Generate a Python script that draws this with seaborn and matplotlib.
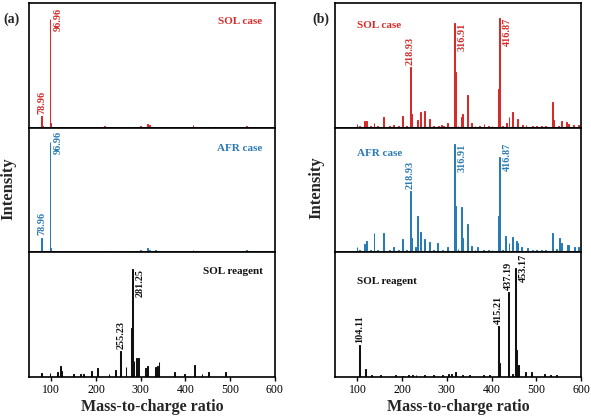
import numpy as np
import pandas as pd
import matplotlib
matplotlib.use("Agg")
import matplotlib.pyplot as plt
import seaborn as sns

# ---- data (m/z, relative intensity) ----
a_sol_mz = [78.96, 80.9, 96.96, 98.9, 219, 231, 241, 298, 315.6, 319, 332, 346, 417, 450, 537]
a_sol_int = [10.5, 1.5, 100, 4, 1.5, 1, 1, 1.5, 3.5, 2, 1, 1, 2.5, 1, 1.5]

a_afr_mz = [78.96, 96.96, 98.9, 219, 298, 315.6, 319, 332, 417, 537, 555]
a_afr_int = [13.5, 100, 4, 1.2, 2, 3.5, 2, 2.5, 2, 2, 1.5]

a_reag_mz = [78.6, 96, 112.5, 120, 123, 148.6, 165, 172.6, 188, 202, 229, 242.6, 255.23, 267,
             279.2, 281.25, 284, 291.5, 295, 310, 315.6, 332, 336, 340.5, 375.7, 397, 421, 437,
             451, 488.6]
a_reag_int = [4, 3.5, 4.5, 10, 6, 3, 3, 3, 6, 8, 3, 6.5, 24, 9,
              45, 100, 15, 17.6, 18, 8, 10, 9.5, 10, 14, 4.5, 3, 11, 2.5,
              4.5, 4.5]

b_sol_mz = [99, 105, 114, 121.6, 128, 136.5, 145, 159, 170, 181, 190, 200.6, 208, 218.93, 220.5,
            235, 241, 250.6, 261, 270, 280, 288, 293, 300, 316.91, 318.5, 325, 333, 335, 347.5,
            355, 362, 372, 382, 392, 400, 415.2, 416.87, 425, 432, 438, 446, 458, 469, 477, 490,
            500, 510, 520, 536, 538.5, 548, 557, 566, 573, 583, 594]
b_sol_int = [3.4, 1.2, 5.7, 5.8, 1.2, 4.3, 1.5, 9.8, 1.2, 2.5, 1.2, 11, 1.5, 55.5, 12.6,
             7.4, 14, 15.6, 7.7, 1.5, 1.2, 2, 1.5, 4.3, 96, 51, 1.5, 9.5, 12.6, 29.5,
             4, 1.5, 1.2, 3, 1.2, 1.2, 35, 100, 1.5, 4.3, 9.5, 14.7, 8, 2.5, 2, 1.2,
             1.2, 1.2, 1.2, 23, 7.4, 1.5, 5.8, 5.2, 3.7, 2, 2.4]

b_afr_mz = [99, 105, 114, 121.6, 128, 136.5, 145, 159, 170, 181, 190, 200.6, 208, 218.93, 220.5,
            229, 235.7, 241, 250.6, 261, 270, 279.7, 290, 300, 316.91, 318.5, 325, 333, 335,
            347.5, 355, 362, 369, 380, 392, 400, 415.2, 416.87, 425, 431, 438, 446, 454, 459,
            467, 480, 490, 500, 510, 520, 536, 544, 552, 557, 568, 573, 585, 594]
b_afr_int = [5.2, 2, 8, 10.3, 2, 18, 2.5, 18, 2, 4.5, 2, 11.9, 2.5, 56.5, 12.8,
             5, 33.7, 18.5, 12.5, 9.7, 2.5, 8.2, 2.5, 5, 100, 43, 3, 41.6, 13.4,
             26, 6, 2.5, 4.8, 2, 2, 2.5, 33.7, 88, 2.5, 15.5, 8.2, 13.7, 10, 9,
             4.5, 4, 2, 2, 2, 2, 18, 3, 13.4, 8.2, 6.4, 6.6, 4.5, 4.5]

b_reag_mz = [104.11, 119, 130, 150, 185, 200, 215, 222, 230, 250, 270, 290, 303, 310, 318,
             335, 350, 380, 395, 415.21, 417.2, 437.19, 446, 453.17, 455.2, 460, 474, 488,
             519, 530, 545]
b_reag_int = [29, 7.4, 1.5, 1.5, 1.5, 1, 2, 2, 1.5, 1.5, 2, 1.5, 3, 2.5, 4.3,
              2, 1.5, 1.5, 1.5, 47, 12.6, 78, 3, 100, 25, 11, 4.3, 4.3,
              2.5, 1.5, 1.5]

# labelled peaks
a_sol_labels = [78.96, 96.96]
a_afr_labels = [78.96, 96.96]
a_reag_labels = [255.23, 281.25]
b_sol_labels = [218.93, 316.91, 416.87]
b_afr_labels = [218.93, 316.91, 416.87]
b_reag_labels = [104.11, 415.21, 437.19, 453.17]

names = ["SOL case", "AFR case", "SOL reagent"]
x_ticks = [100, 200, 300, 400, 500, 600]

red = "#d62b2b"
blue = "#2a7ab3"
black = "#111111"

sns.set_theme(style="ticks")
plt.rcParams["font.family"] = ["Liberation Serif", "DejaVu Serif"]

fig = plt.figure(figsize=(5.91, 4.18), dpi=100)

panels = {
    "a": [(a_sol_mz, a_sol_int, a_sol_labels, red, 115, ["above", "right_c"]),
          (a_afr_mz, a_afr_int, a_afr_labels, blue, 113.5, ["above", "right_c"]),
          (a_reag_mz, a_reag_int, a_reag_labels, black, 115, ["above", "right_t"])],
    "b": [(b_sol_mz, b_sol_int, b_sol_labels, red, 114, ["above", "right_t", "right_t"]),
          (b_afr_mz, b_afr_int, b_afr_labels, blue, 115, ["above", "right_t", "right_c"]),
          (b_reag_mz, b_reag_int, b_reag_labels, black, 114, ["above", "above", "above", "right_c"])],
}
lefts = {"a": 0.049, "b": 0.567}
name_x = {"a": (0.95, "right"), "b": (0.088, "left")}
name_y = {"a": [0.85, 0.835, 0.85], "b": [0.815, 0.79, 0.77]}

top, bottom = 0.993, 0.098
h = (top - bottom) / 3

for key, rows in panels.items():
    for i, (mz, inten, labels, color, ymax, modes) in enumerate(rows):
        ax = fig.add_axes([lefts[key], top - (i + 1) * h, 0.416, h])
        df = pd.DataFrame({"mz": mz, "intensity": inten})
        sns.histplot(data=df, x="mz", weights="intensity", binwidth=2, binrange=(50, 600),
                     color=color, alpha=1, edgecolor=color, linewidth=0.75, ax=ax)
        ax.set_xlim(50, 600)
        ax.set_ylim(0, ymax)
        ax.set_yticks([])
        ax.set_ylabel("")
        for s in ax.spines.values():
            s.set_visible(True)
            s.set_color("black")
            s.set_linewidth(1.2)
        lookup = dict(zip(mz, inten))
        for lab, mode in zip(labels, modes):
            y = lookup[lab]
            kw = dict(textcoords="offset points", rotation=90, fontsize=7.3,
                      fontweight="bold", color=color)
            if mode == "above":
                ax.annotate(f"{lab:.2f}", (lab, y), xytext=(0, 1.5), ha="center", va="bottom", **kw)
            elif mode == "right_t":
                ax.annotate(f"{lab:.2f}", (lab, y), xytext=(2.5, 0), ha="left", va="top", **kw)
            else:
                ax.annotate(f"{lab:.2f}", (lab, y), xytext=(2.5, 0), ha="left", va="center", **kw)
        nx, nha = name_x[key]
        ax.text(nx, name_y[key][i], names[i], transform=ax.transAxes, ha=nha, va="center",
                fontsize=8, fontweight="bold", color=color)
        if i < 2:
            ax.set_xticks([])
            ax.set_xlabel("")
        else:
            ax.set_xticks(x_ticks)
            ax.tick_params(axis="x", direction="out", length=3, width=1, labelsize=8.5,
                           pad=2, colors="black")
            ax.set_xlabel("Mass-to-charge ratio", fontsize=11.5, fontweight="bold", labelpad=2)

fig.text(0.005, 0.955, "(a)", fontsize=10, fontweight="bold", ha="left", va="center")
fig.text(0.528, 0.955, "(b)", fontsize=10, fontweight="bold", ha="left", va="center")
fig.text(0.015, 0.548, "Intensity", rotation=90, fontsize=12, fontweight="bold",
         ha="center", va="center")
fig.text(0.535, 0.55, "Intensity", rotation=90, fontsize=12, fontweight="bold",
         ha="center", va="center")

fig.savefig("out.png", dpi=100)
